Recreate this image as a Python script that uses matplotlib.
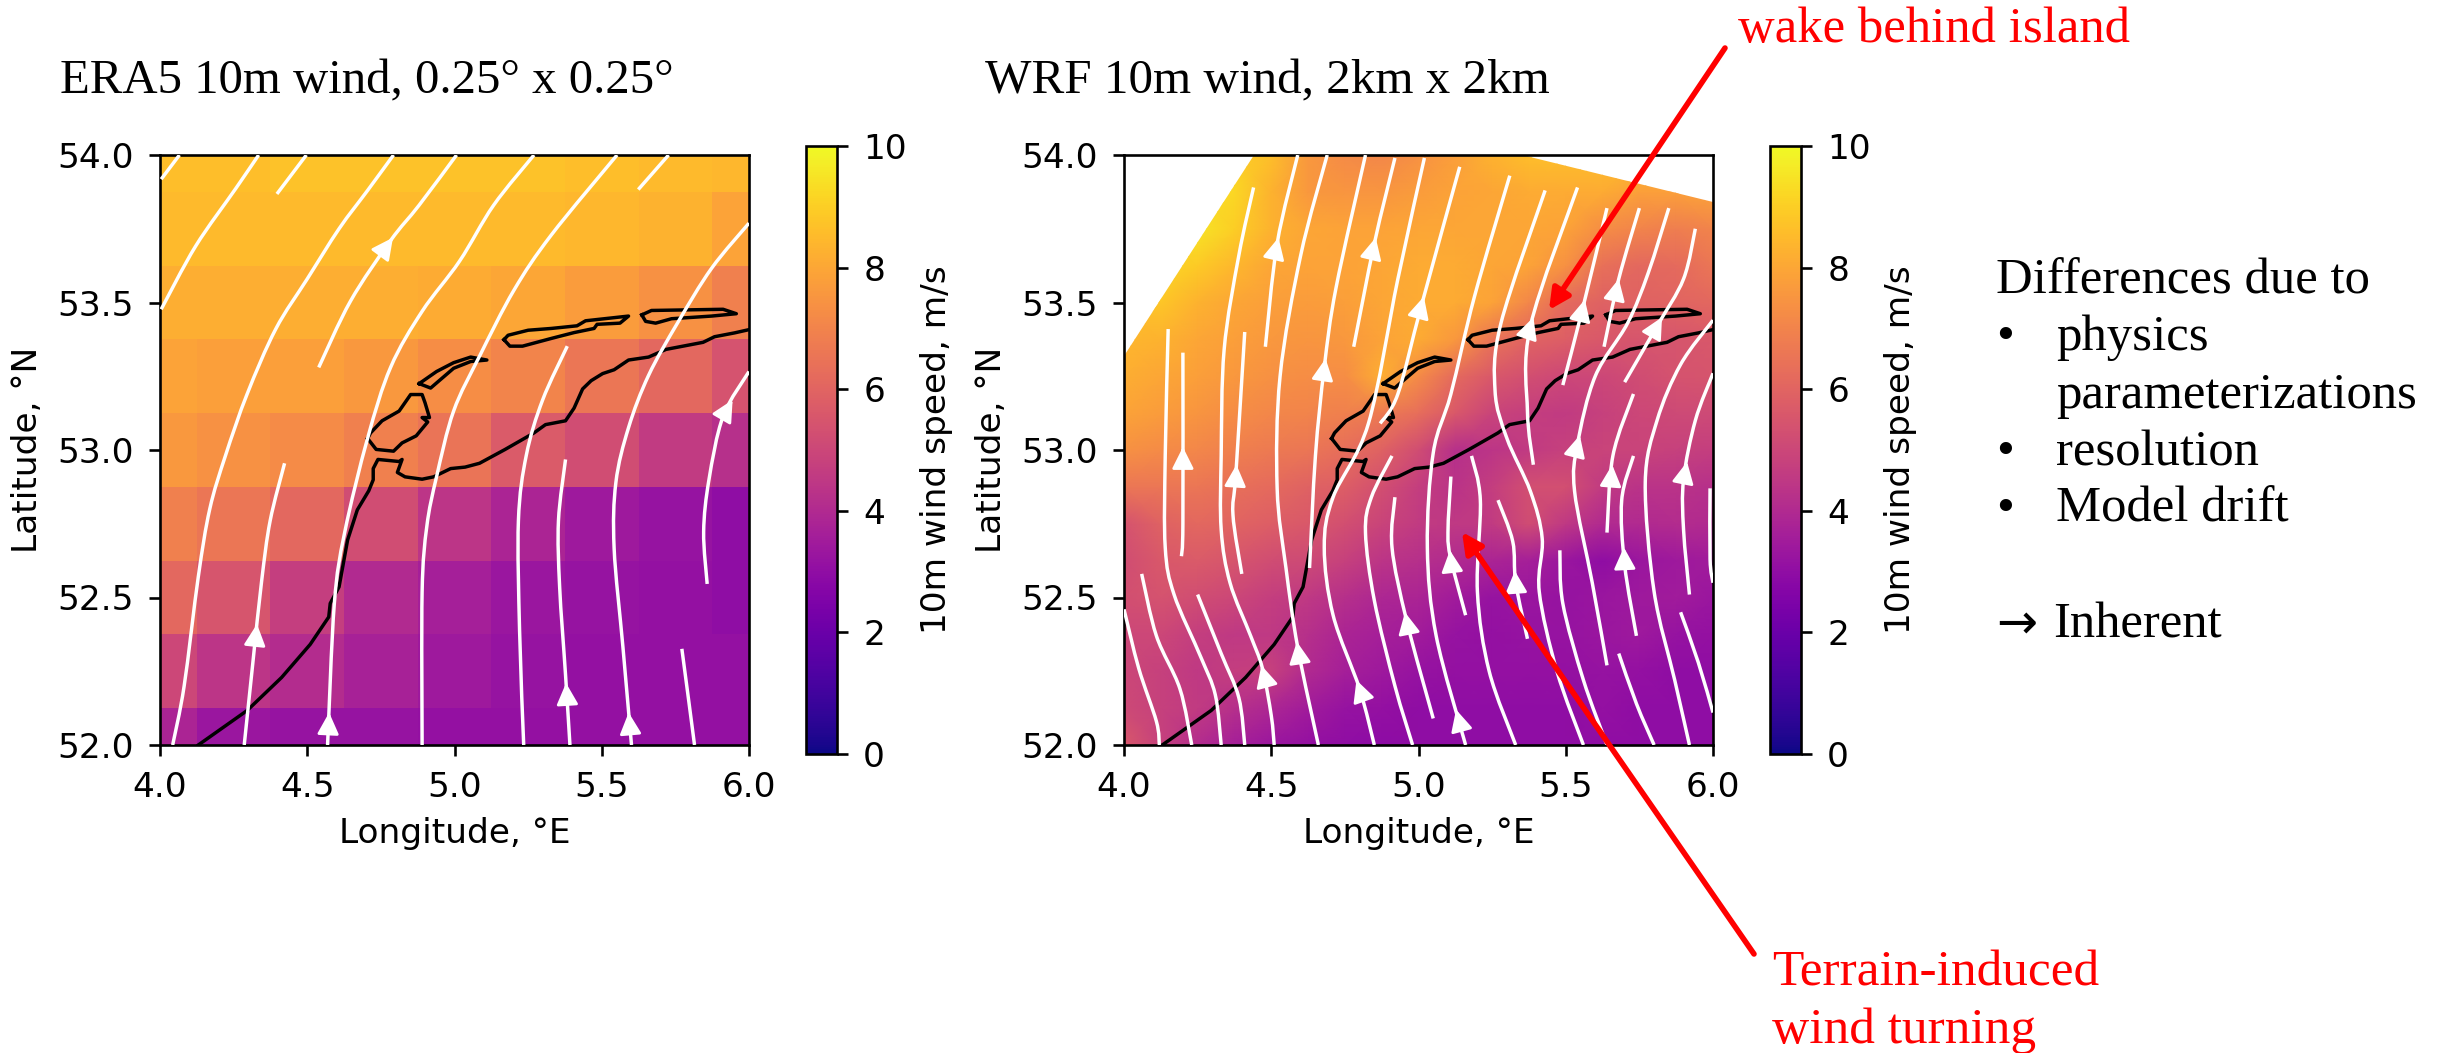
import numpy as np
import matplotlib
matplotlib.use("Agg")
import matplotlib.pyplot as plt
from matplotlib.patches import FancyArrowPatch, PathPatch, Polygon
from matplotlib.path import Path

W, H, DPI = 2459, 1053, 236
SERIF = ["Liberation Serif", "DejaVu Serif"]
plt.rcParams["font.size"] = 10.5
plt.rcParams["xtick.major.pad"] = 4.5
plt.rcParams["ytick.major.pad"] = 4.5

# ERA5 cell values, top row is 54.0N
era_lon = [4.0, 4.25, 4.5, 4.75, 5.0, 5.25, 5.5, 5.75, 6.0]
era_lat = [52.0, 52.25, 52.5, 52.75, 53.0, 53.25, 53.5, 53.75, 54.0]
era_row_540 = [8.6, 8.6, 8.7, 8.7, 8.7, 8.7, 8.6, 8.5, 8.4]
era_row_5375 = [8.5, 8.5, 8.5, 8.5, 8.5, 8.5, 8.4, 8.3, 7.9]
era_row_535 = [8.2, 8.2, 8.2, 8.2, 8.1, 8.0, 7.7, 7.4, 6.9]
era_row_5325 = [7.9, 7.8, 7.8, 7.6, 7.3, 7.0, 6.6, 6.1, 5.4]
era_row_530 = [7.6, 7.4, 7.2, 6.9, 6.5, 5.7, 5.2, 4.6, 4.2]
era_row_5275 = [6.9, 6.6, 6.1, 5.2, 4.4, 3.8, 3.4, 3.2, 3.0]
era_row_525 = [6.1, 5.5, 4.7, 4.0, 3.6, 3.3, 3.2, 3.1, 3.0]
era_row_5225 = [5.0, 4.4, 4.1, 3.7, 3.4, 3.2, 3.1, 3.1, 3.1]
era_row_520 = [3.8, 3.3, 3.2, 3.2, 3.1, 3.1, 3.1, 3.1, 3.1]

# WRF values, 0.125 deg grid, top row is 54.0N
wrf_lon = [4.0, 4.125, 4.25, 4.375, 4.5, 4.625, 4.75, 4.875, 5.0, 5.125, 5.25, 5.375, 5.5, 5.625, 5.75, 5.875, 6.0]
wrf_lat = [52.0, 52.125, 52.25, 52.375, 52.5, 52.625, 52.75, 52.875, 53.0, 53.125, 53.25, 53.375, 53.5, 53.625, 53.75, 53.875, 54.0]
wrf_r16 = [9.0, 9.0, 9.0, 9.0, 8.6, 7.6, 7.2, 7.1, 7.4, 7.8, 8.3, 8.6, 8.6, 8.6, 8.6, 8.6, 8.6]
wrf_r15 = [9.0, 9.0, 9.2, 9.2, 8.3, 7.6, 7.5, 7.5, 7.7, 7.9, 8.0, 8.1, 8.1, 8.1, 7.8, 7.8, 7.9]
wrf_r14 = [9.2, 9.4, 9.5, 9.0, 8.3, 8.0, 7.9, 7.9, 8.0, 8.0, 8.0, 8.0, 7.9, 7.3, 7.0, 6.8, 7.0]
wrf_r13 = [9.0, 9.2, 8.9, 8.4, 8.0, 7.9, 7.9, 8.0, 8.1, 8.1, 8.0, 7.9, 7.4, 6.4, 6.1, 6.2, 6.6]
wrf_r12 = [8.6, 8.8, 8.3, 8.0, 7.8, 7.7, 7.8, 8.0, 8.1, 8.1, 7.9, 7.1, 6.2, 5.9, 5.9, 6.0, 6.1]
wrf_r11 = [8.4, 8.3, 8.0, 7.8, 7.6, 7.5, 7.6, 7.9, 8.1, 7.6, 6.5, 6.0, 5.8, 5.6, 5.5, 5.5, 5.6]
wrf_r10 = [8.2, 8.0, 7.8, 7.6, 7.4, 7.3, 7.3, 8.2, 7.2, 6.2, 5.6, 5.3, 5.0, 5.0, 5.2, 5.4, 5.5]
wrf_r09 = [7.9, 7.7, 7.5, 7.3, 7.1, 7.0, 6.9, 6.7, 6.3, 5.6, 4.9, 4.7, 4.6, 4.8, 5.0, 5.1, 5.1]
wrf_r08 = [7.4, 7.2, 7.1, 6.9, 6.7, 6.6, 6.3, 5.9, 5.2, 4.2, 4.4, 4.6, 4.8, 4.9, 4.9, 4.8, 4.7]
wrf_r07 = [6.6, 6.6, 6.6, 6.4, 6.2, 5.9, 5.8, 5.3, 4.7, 4.3, 4.7, 5.3, 5.3, 4.6, 4.3, 4.3, 4.2]
wrf_r06 = [5.4, 5.9, 6.1, 6.0, 5.8, 5.6, 5.3, 4.9, 4.6, 4.5, 4.6, 5.2, 4.5, 4.0, 4.0, 4.1, 4.0]
wrf_r05 = [5.2, 5.6, 5.7, 5.5, 5.2, 5.1, 4.8, 4.4, 4.2, 4.0, 3.8, 3.6, 3.3, 3.0, 3.3, 3.4, 3.5]
wrf_r04 = [5.3, 5.4, 5.2, 5.0, 4.7, 4.5, 4.2, 3.9, 3.8, 3.5, 3.2, 3.3, 3.2, 3.3, 3.4, 3.5, 3.3]
wrf_r03 = [5.0, 5.0, 4.7, 4.5, 4.5, 4.2, 3.8, 3.6, 3.5, 3.2, 3.1, 3.2, 3.2, 3.3, 3.4, 3.2, 3.1]
wrf_r02 = [5.0, 4.8, 4.5, 4.7, 4.8, 4.0, 3.6, 3.4, 3.2, 3.1, 3.1, 3.1, 3.1, 3.2, 3.1, 3.0, 3.0]
wrf_r01 = [5.1, 4.8, 4.6, 4.2, 3.9, 3.5, 3.2, 3.1, 3.0, 3.0, 3.0, 3.0, 3.0, 3.1, 3.0, 3.0, 3.0]
wrf_r00 = [5.6, 4.8, 4.1, 3.6, 3.3, 3.1, 3.0, 2.9, 3.0, 3.0, 3.0, 3.0, 3.0, 3.0, 3.0, 3.0, 3.0]
# corners of the WRF domain inside the window
wrf_edge_lon = [4.0, 4.44, 5.35, 6.0, 6.0, 4.0]
wrf_edge_lat = [53.32, 54.0, 54.0, 53.84, 52.0, 52.0]

# coastline
coast_lon = [4.13, 4.296, 4.413, 4.51, 4.573, 4.578, 4.608, 4.637, 4.67, 4.709, 4.724, 4.724, 4.74, 4.812, 4.822, 4.806, 4.832, 4.89, 4.929, 4.987, 5.036, 5.085, 5.172, 5.27, 5.309, 5.377, 5.406, 5.435, 5.464, 5.503, 5.542, 5.591, 5.659, 5.718, 5.844, 5.883, 5.951, 6.0]
coast_lat = [52.0, 52.117, 52.229, 52.341, 52.434, 52.48, 52.536, 52.695, 52.797, 52.862, 52.899, 52.937, 52.968, 52.961, 52.968, 52.924, 52.909, 52.901, 52.909, 52.937, 52.942, 52.955, 53.002, 53.058, 53.086, 53.099, 53.142, 53.207, 53.235, 53.259, 53.272, 53.305, 53.315, 53.341, 53.365, 53.384, 53.397, 53.408]
texel_lon = [4.705, 4.734, 4.793, 4.822, 4.87, 4.909, 4.89, 4.915, 4.9, 4.89, 4.851, 4.812, 4.754, 4.715, 4.705]
texel_lat = [53.039, 53.002, 52.996, 53.024, 53.048, 53.095, 53.11, 53.11, 53.16, 53.188, 53.188, 53.132, 53.099, 53.058, 53.039]
vlieland_lon = [4.88, 4.919, 4.948, 4.997, 5.055, 5.11, 5.055, 4.997, 4.939, 4.88]
vlieland_lat = [53.225, 53.21, 53.235, 53.277, 53.3, 53.305, 53.315, 53.296, 53.266, 53.225]
terschelling_lon = [5.168, 5.188, 5.231, 5.328, 5.406, 5.474, 5.484, 5.562, 5.591, 5.445, 5.416, 5.328, 5.25, 5.182, 5.168]
terschelling_lat = [53.374, 53.352, 53.352, 53.378, 53.398, 53.412, 53.426, 53.43, 53.454, 53.438, 53.421, 53.412, 53.406, 53.389, 53.374]
ameland_lon = [5.636, 5.649, 5.683, 5.737, 5.873, 5.957, 5.912, 5.669, 5.636]
ameland_lat = [53.458, 53.436, 53.43, 53.445, 53.454, 53.462, 53.477, 53.473, 53.458]

# streamlines as (lons, lats, lat of the arrow head or None), south to north
era_streams = [
    ([4.004, 4.066], [53.918, 54.0], None),
    ([4.004, 4.121, 4.257, 4.335], [53.477, 53.691, 53.886, 54.0], None),
    ([4.397, 4.497], [53.868, 54.0], None),
    ([4.043, 4.082, 4.13, 4.169, 4.222, 4.296, 4.393, 4.5, 4.608, 4.705, 4.793], [52.0, 52.2, 52.57, 52.8, 52.98, 53.19, 53.41, 53.58, 53.75, 53.88, 54.0], None),
    ([4.286, 4.315, 4.345, 4.374, 4.423], [52.0, 52.276, 52.555, 52.76, 52.955], 52.38),
    ([4.569, 4.592, 4.627, 4.705, 4.783, 4.89, 5.017, 5.133, 5.27], [52.0, 52.48, 52.72, 53.04, 53.28, 53.47, 53.64, 53.83, 54.0], 52.08),
    ([4.539, 4.647, 4.783, 4.88, 5.007], [53.28, 53.505, 53.71, 53.83, 54.0], 53.69),
    ([4.89, 4.89, 4.906, 4.939, 4.997, 5.085, 5.202, 5.328, 5.552], [52.0, 52.518, 52.741, 52.909, 53.132, 53.318, 53.542, 53.728, 54.0], None),
    ([5.235, 5.221, 5.217, 5.244, 5.299, 5.383], [52.0, 52.387, 52.76, 52.983, 53.169, 53.352], None),
    ([5.392, 5.377, 5.357, 5.353, 5.377], [52.0, 52.238, 52.536, 52.76, 52.968], 52.18),
    ([5.601, 5.572, 5.542, 5.548, 5.591, 5.659, 5.757, 5.873, 6.0], [52.0, 52.331, 52.667, 52.89, 53.076, 53.253, 53.43, 53.616, 53.769], 52.08),
    ([5.815, 5.796, 5.772], [52.0, 52.145, 52.326], None),
    ([5.858, 5.846, 5.864, 5.912, 6.0], [52.546, 52.723, 52.899, 53.114, 53.266], 53.14),
    ([5.624, 5.727], [53.883, 54.0], None),
]

wrf_streams = [
    ([4.12, 4.11, 4.05, 4.0], [52.0, 52.08, 52.26, 52.46], None),
    ([4.23, 4.19, 4.11, 4.06], [52.0, 52.19, 52.37, 52.58], None),
    ([4.33, 4.31, 4.26, 4.17, 4.14, 4.14, 4.15], [52.0, 52.17, 52.3, 52.51, 52.67, 52.98, 53.41], None),
    ([4.195, 4.2, 4.2], [52.64, 52.75, 53.33], 52.98),
    ([4.41, 4.39, 4.33, 4.25], [52.0, 52.16, 52.31, 52.51], None),
    ([4.51, 4.5, 4.47, 4.43, 4.36, 4.33, 4.33, 4.34, 4.39, 4.44], [52.0, 52.1, 52.26, 52.37, 52.55, 52.73, 52.98, 53.34, 53.66, 53.89], 52.24),
    ([4.4, 4.37, 4.38, 4.41], [52.58, 52.78, 52.92, 53.4], 52.92),
    ([4.48, 4.52, 4.59], [53.35, 53.7, 54.0], 53.69),
    ([4.66, 4.59, 4.55, 4.52, 4.53, 4.6, 4.69], [52.0, 52.33, 52.6, 52.87, 53.25, 53.66, 54.0], 52.32),
    ([4.63, 4.65, 4.68, 4.72, 4.82], [52.6, 52.98, 53.28, 53.55, 54.0], 53.28),
    ([4.78, 4.85, 4.92], [53.35, 53.7, 53.99], 53.69),
    ([4.87, 4.93, 5.01, 5.14], [53.09, 53.19, 53.49, 53.96], 53.49),
    ([4.85, 4.8, 4.71, 4.68, 4.71, 4.83, 4.93, 5.02], [52.0, 52.19, 52.44, 52.67, 52.84, 53.09, 53.58, 53.99], 52.19),
    ([4.98, 4.92, 4.85, 4.82, 4.84, 4.91], [52.0, 52.2, 52.49, 52.72, 52.84, 52.98], None),
    ([5.05, 4.96, 4.91, 4.92], [52.09, 52.42, 52.67, 52.84], 52.42),
    ([5.16, 5.06, 5.03, 5.05, 5.11, 5.19, 5.31], [52.0, 52.37, 52.67, 52.99, 53.19, 53.52, 53.93], 52.09),
    ([5.16, 5.11, 5.1, 5.11], [52.44, 52.63, 52.72, 52.91], 52.63),
    ([5.33, 5.24, 5.2, 5.21, 5.18], [52.0, 52.25, 52.52, 52.83, 52.98], None),
    ([5.37, 5.33, 5.32, 5.27], [52.36, 52.55, 52.69, 52.83], 52.56),
    ([5.56, 5.47, 5.41, 5.42, 5.38, 5.3, 5.26, 5.28, 5.43], [52.0, 52.25, 52.52, 52.7, 52.86, 53.04, 53.2, 53.43, 53.88], None),
    ([5.39, 5.37, 5.38, 5.54], [52.95, 53.13, 53.42, 53.89], 53.42),
    ([5.49, 5.56, 5.64], [53.22, 53.49, 53.82], 53.48),
    ([5.63, 5.68, 5.75], [53.35, 53.58, 53.82], 53.55),
    ([5.64, 5.59, 5.53, 5.54, 5.6, 5.71, 5.78, 5.85], [52.27, 52.55, 52.86, 53.02, 53.25, 53.43, 53.6, 53.82], 53.02),
    ([5.64, 5.56, 5.49, 5.48], [52.0, 52.22, 52.48, 52.66], None),
    ([5.7, 5.81, 5.9, 5.94], [53.23, 53.42, 53.58, 53.75], 53.42),
    ([5.64, 5.66, 5.73], [52.72, 52.98, 53.19], 52.92),
    ([5.74, 5.7, 5.69, 5.73], [52.37, 52.61, 52.83, 52.98], 52.64),
    ([5.92, 5.87, 5.8, 5.77, 5.81, 5.89, 6.0], [52.0, 52.22, 52.52, 52.89, 53.1, 53.29, 53.44], None),
    ([5.92, 5.9, 5.9, 5.94, 6.0], [52.51, 52.73, 52.9, 53.1, 53.26], 52.93),
    ([6.0, 5.95, 5.89], [52.11, 52.28, 52.45], None),
    ([5.8, 5.74, 5.68], [52.0, 52.14, 52.31], None),
    ([6.0, 5.99, 5.99], [52.55, 52.63, 52.87], None),
]

title_left = "ERA5 10m wind, 0.25° x 0.25°"
title_right = "WRF 10m wind, 2km x 2km"
cbar_label = "10m wind speed, m/s"
note_lines = ["Differences due to", "physics", "parameterizations", "resolution", "Model drift"]


def fx(px):
    return px / W


def fy(py):
    return 1 - py / H


def ax_px(left, top, right, bottom):
    return fig.add_axes([fx(left), fy(bottom), (right - left) / W, (bottom - top) / H])


def curve_path(lons, lats):
    # bezier through the read points so the line does not look kinked
    pts = np.column_stack([lons, lats])
    verts = [pts[0]]
    codes = [Path.MOVETO]
    for i in range(len(pts) - 1):
        before = pts[max(i - 1, 0)]
        after = pts[min(i + 2, len(pts) - 1)]
        verts += [pts[i] + (pts[i + 1] - before) / 6, pts[i + 1] - (after - pts[i]) / 6, pts[i + 1]]
        codes += [Path.CURVE4] * 3
    return Path(verts, codes)


def draw_streams(ax, streams):
    for lons, lats, arrow_lat in streams:
        ax.add_patch(PathPatch(curve_path(lons, lats), fc="none", ec="white", lw=1.05, capstyle="butt", zorder=3))
        if arrow_lat is not None:
            # arrow_lat is the middle of the head, the patch needs its tip
            tip = arrow_lat + 0.03
            a = (np.interp(tip - 0.02, lats, lons), tip - 0.02)
            b = (np.interp(tip, lats, lons), tip)
            ax.add_patch(FancyArrowPatch(a, b, arrowstyle="-|>", mutation_scale=14, color="white", lw=0.85,
                                         shrinkA=0, shrinkB=0, zorder=4))


def draw_coast(ax):
    for lons, lats in [(coast_lon, coast_lat), (texel_lon, texel_lat), (vlieland_lon, vlieland_lat),
                       (terschelling_lon, terschelling_lat), (ameland_lon, ameland_lat)]:
        ax.plot(lons, lats, color="black", lw=1.05, zorder=2)


def finish_axes(ax, cax, mesh):
    draw_coast(ax)
    ax.set_xlim(4, 6)
    ax.set_ylim(52, 54)
    ax.set_xticks([4.0, 4.5, 5.0, 5.5, 6.0])
    ax.set_yticks([52.0, 52.5, 53.0, 53.5, 54.0])
    ax.set_xlabel("Longitude, °E")
    ax.set_ylabel("Latitude, °N")
    cb = fig.colorbar(mesh, cax=cax)
    cb.set_ticks([0, 2, 4, 6, 8, 10])
    cb.set_label(cbar_label)


fig = plt.figure(figsize=(W / DPI, H / DPI), dpi=DPI)

ax1 = ax_px(160, 155, 749, 745)
cax1 = ax_px(806, 146, 837, 754)
ax2 = ax_px(1124, 155, 1713, 745)
cax2 = ax_px(1770, 146, 1801, 754)

era_z = np.array([era_row_520, era_row_5225, era_row_525, era_row_5275, era_row_530,
                  era_row_5325, era_row_535, era_row_5375, era_row_540])
mesh1 = ax1.pcolormesh(era_lon, era_lat, era_z, cmap="plasma", vmin=0, vmax=10, shading="nearest")
draw_streams(ax1, era_streams)
finish_axes(ax1, cax1, mesh1)

wrf_z = np.array([wrf_r00, wrf_r01, wrf_r02, wrf_r03, wrf_r04, wrf_r05, wrf_r06, wrf_r07, wrf_r08,
                  wrf_r09, wrf_r10, wrf_r11, wrf_r12, wrf_r13, wrf_r14, wrf_r15, wrf_r16])
mesh2 = ax2.pcolormesh(wrf_lon, wrf_lat, wrf_z, cmap="plasma", vmin=0, vmax=10, shading="gouraud")
domain = Polygon(np.column_stack([wrf_edge_lon, wrf_edge_lat]), closed=True, transform=ax2.transData)
mesh2.set_clip_path(domain)
draw_streams(ax2, wrf_streams)
finish_axes(ax2, cax2, mesh2)

# text set on the slide around the panels
fig.text(fx(60), fy(93), title_left, family=SERIF, fontsize=14.9, color="black")
fig.text(fx(985), fy(93), title_right, family=SERIF, fontsize=15.0, color="black")
fig.text(fx(1738), fy(42), "wake behind island", family=SERIF, fontsize=15.5, color="red")
fig.text(fx(1772), fy(986), "Terrain-induced", family=SERIF, fontsize=15.7, color="red")
fig.text(fx(1772), fy(1043), "wind turning", family=SERIF, fontsize=15.7, color="red")

fig.text(fx(1996), fy(293), note_lines[0], family=SERIF, fontsize=15.5)
fig.text(fx(2056), fy(350), note_lines[1], family=SERIF, fontsize=15.5)
fig.text(fx(2056), fy(408), note_lines[2], family=SERIF, fontsize=15.5)
fig.text(fx(2056), fy(465), note_lines[3], family=SERIF, fontsize=15.5)
fig.text(fx(2056), fy(522), note_lines[4], family=SERIF, fontsize=15.5)
for py in [350, 465, 522]:
    fig.text(fx(1996), fy(py), "•", family=SERIF, fontsize=15.5)
fig.text(fx(1996), fy(638), "→", family=["DejaVu Sans"], fontsize=15)
fig.text(fx(2053), fy(638), "Inherent", family=SERIF, fontsize=15.5)

fig.add_artist(FancyArrowPatch((fx(1725), fy(48)), (fx(1549), fy(310)), transform=fig.transFigure,
                               arrowstyle="-|>", mutation_scale=13, color="red", lw=1.7, shrinkA=0, shrinkB=0))
fig.add_artist(FancyArrowPatch((fx(1754), fy(954)), (fx(1462), fy(532)), transform=fig.transFigure,
                               arrowstyle="-|>", mutation_scale=13, color="red", lw=1.7, shrinkA=0, shrinkB=0))

fig.savefig("out.png", dpi=DPI)
